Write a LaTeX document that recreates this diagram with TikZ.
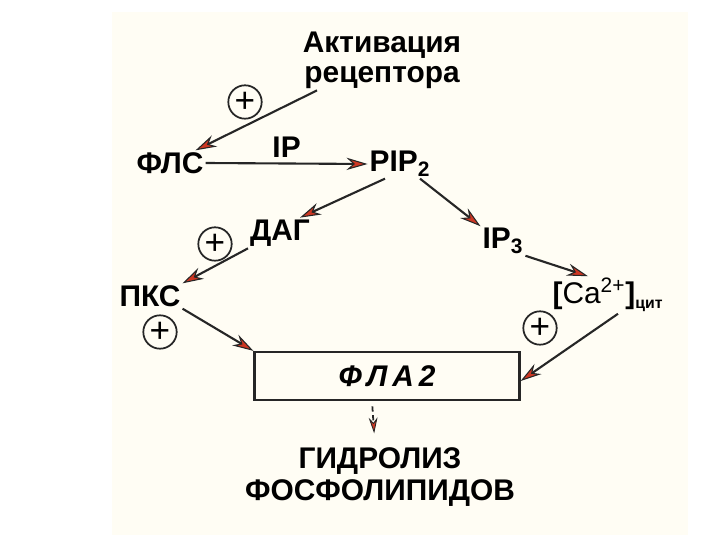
\documentclass[tikz,border=0pt]{standalone}
\usepackage{fontspec}
\setmainfont{Liberation Sans}
\usetikzlibrary{arrows.meta}
\definecolor{tipred}{RGB}{205,55,35}
\definecolor{scan}{RGB}{255,253,244}
\tikzset{
  arr/.style={draw=black!85, line width=1.2pt, -{Stealth[length=12pt,width=7pt,fill=tipred,line width=0.6pt]}},
  plus/.style={circle, draw=black!85, line width=1pt, inner sep=0pt, minimum size=19pt, font=\fontsize{20}{20}\selectfont},
  lbl/.style={font=\fontsize{17}{20}\selectfont, inner sep=1pt},
  lblb/.style={font=\fontsize{17}{20}\selectfont\bfseries, inner sep=1pt}
}
\begin{document}
\begin{tikzpicture}[x=0.02cm, y=-0.02cm]
  \useasboundingbox (0,0) rectangle (720,540);
  \fill[scan] (112,12) rectangle (688,535);

  \node[lblb, align=center] (akt) at (382,60) {Активация\\[-3pt]рецептора};
  \node[lblb] (flc) at (170,163) {ФЛС};
  \node[lblb] (pip) at (400,164) {PIP\textsubscript{2}};
  \node[lblb] (dag) at (280,233) {ДАГ};
  \node[lblb] (ip3) at (503,241) {IP\textsubscript{3}};
  \node[lbl] (ca) at (608,295) {\textbf{[}Ca\textsuperscript{2+}\textbf{]}\textsubscript{\fontsize{9}{9}\selectfont\bfseries цит}};
  \node[lblb] (pkc) at (150,296) {ПКС};

  \node[draw=black!85, line width=1.3pt, minimum width=5.3cm, minimum height=0.96cm,
        font=\fontsize{17}{20}\selectfont\bfseries\itshape] (fla) at (387,376) {Ф\,Л\,А\,2};
  \node[lblb, align=center] (gidr) at (380,477) {ГИДРОЛИЗ\\[-2pt]ФОСФОЛИПИДОВ};

  % плюсы
  \node[plus] (p1) at (245,102) {+};
  \node[plus] (p2) at (215,244) {+};
  \node[plus] (p3) at (160,332) {+};
  \node[plus] (p4) at (540,328) {+};

  \draw[arr] ([xshift=-1.3cm]akt.south) -- ([xshift=-0.2cm]flc.north east);
  \draw[arr] (flc.east) -- node[lblb, above=2pt] {IP} (pip.west);
  \draw[arr] ([xshift=-0.3cm]pip.south) -- ([xshift=0.4cm]dag.north);
  \draw[arr] ([xshift=0.4cm]pip.south) -- (ip3.north west);
  \draw[arr] (dag.south west) -- (pkc.north east);
  \draw[arr] (ip3.south east) -- ([xshift=-0.4cm]ca.north);
  \draw[arr] (pkc.south east) -- (fla.north west);
  \draw[arr] ([xshift=0.2cm]ca.south) -- ([yshift=-0.1cm]fla.east);
  \draw[draw=black!85, line width=1pt, dashed, dash pattern=on 3pt off 2pt,
        -{Stealth[length=9pt,width=5pt,fill=tipred,line width=0.5pt]},
        shorten <=3pt, shorten >=7pt] ([xshift=-0.3cm]fla.south) -- ([xshift=-0.1cm]gidr.north);
\end{tikzpicture}
\end{document}
